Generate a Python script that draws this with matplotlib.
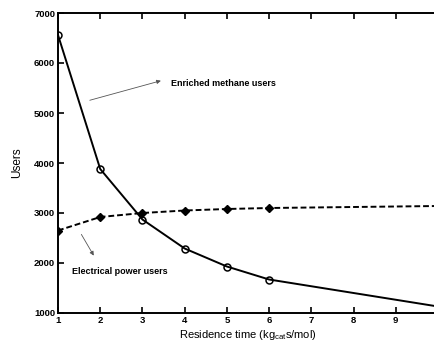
import matplotlib
matplotlib.use("Agg")
import matplotlib.pyplot as plt

# residence time (kg_cat s/mol)
residence = [1, 2, 3, 4, 5, 6, 10]
methane_users = [6560, 3880, 2870, 2290, 1930, 1670, 1130]
power_users = [2650, 2920, 3000, 3050, 3080, 3100, 3140]
x_ticks = [1, 2, 3, 4, 5, 6, 7, 8, 9]
y_ticks = [1000, 2000, 3000, 4000, 5000, 6000, 7000]

plt.rcParams["font.family"] = ["Liberation Sans", "DejaVu Sans"]

fig = plt.figure(figsize=(4.35, 3.43), dpi=100)
ax = fig.add_axes([58 / 435, 30 / 343, 380 / 435, 300 / 343])

# solid line with open circles (markers only at measured points)
ax.plot(residence, methane_users, color="black", lw=1.4)
ax.plot(residence[:-1], methane_users[:-1], ls="none", marker="o", ms=5,
        mfc="none", mec="black", mew=1.1)

ax.plot(residence, power_users, color="black", lw=1.4, ls=(0, (3, 1.5)))
ax.plot(residence[:-1], power_users[:-1], ls="none", marker="D", ms=3.8,
        mfc="black", mec="black")

ax.set_xlim(1, 10)
ax.set_ylim(1000, 7000)
ax.set_xticks(x_ticks)
ax.set_yticks(y_ticks)
ax.tick_params(direction="in", top=True, right=False, length=4, width=1.2,
               labelsize=6.8, pad=2)
for lbl in ax.get_xticklabels() + ax.get_yticklabels():
    lbl.set_fontweight("bold")
for sp in ax.spines.values():
    sp.set_linewidth(1.4)

ax.set_ylabel("Users", fontsize=8.5, labelpad=8)
ax.set_xlabel(r"Residence time (kg$_{\mathregular{cat}}$s/mol)", fontsize=8,
              labelpad=2)

ax.annotate("", xy=(3.5, 5660), xytext=(1.69, 5240),
            arrowprops=dict(arrowstyle="-|>", color="#555555", lw=0.6,
                            mutation_scale=6))
ax.text(3.67, 5580, "Enriched methane users", fontsize=6.5,
        fontweight="semibold", va="center", ha="left")

ax.annotate("", xy=(1.88, 2100), xytext=(1.52, 2620),
            arrowprops=dict(arrowstyle="-|>", color="#555555", lw=0.6,
                            mutation_scale=6))
ax.text(1.33, 1840, "Electrical power users", fontsize=6.5,
        fontweight="semibold", va="center", ha="left")

fig.savefig("out.png", dpi=100)
